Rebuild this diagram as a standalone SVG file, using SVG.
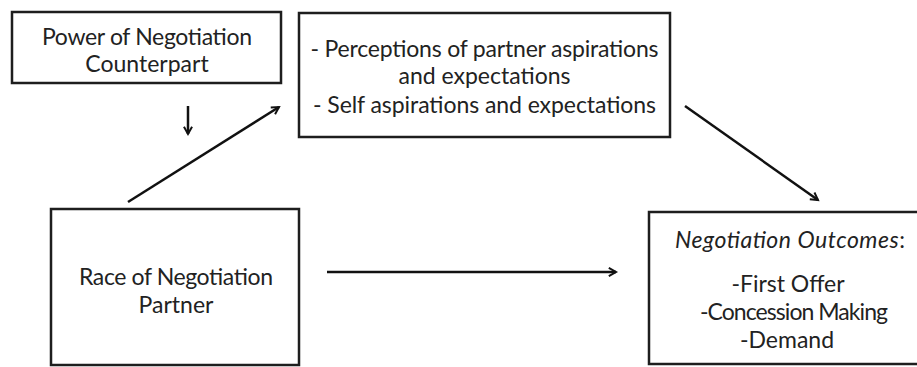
<svg xmlns="http://www.w3.org/2000/svg" width="917" height="367" viewBox="0 0 917 367">
<style>
.box{fill:#fff;stroke:#1e1e1e;stroke-width:2.5}
.t{font-family:Lato,"Open Sans","Liberation Sans",sans-serif;font-size:23px;fill:#222;text-anchor:middle}
.it{font-style:italic}
.c{stroke:#111;stroke-width:2.5;fill:none}
</style>
<defs>
<marker id="ah" viewBox="0 0 10 10" refX="9" refY="5" markerWidth="9" markerHeight="9" markerUnits="userSpaceOnUse" orient="auto" overflow="visible">
<path d="M1,0.5 L9,5 L1,9.5" fill="none" stroke="#111" stroke-width="2.2"/>
</marker>
</defs>
<rect width="917" height="367" fill="#fff"/>
<g id="power">
<rect class="box" x="12" y="12" width="269" height="71"/>
<text class="t" x="147" y="45" textLength="210">Power of Negotiation</text>
<text class="t" x="147" y="72">Counterpart</text>
</g>
<g id="perceptions">
<rect class="box" x="299" y="13" width="371" height="124"/>
<text class="t" x="484.5" y="57" textLength="348">- Perceptions of partner aspirations</text>
<text class="t" x="484.5" y="84">and expectations</text>
<text class="t" x="484.5" y="113" textLength="343">- Self aspirations and expectations</text>
</g>
<g id="race">
<rect class="box" x="51" y="209" width="248" height="156"/>
<text class="t" x="176" y="285" textLength="194">Race of Negotiation</text>
<text class="t" x="176" y="313">Partner</text>
</g>
<g id="outcomes">
<rect class="box" x="649" y="212" width="290" height="152"/>
<text class="t" x="790" y="248" textLength="230"><tspan class="it">Negotiation Outcomes</tspan>:</text>
<text class="t" x="788" y="292">-First Offer</text>
<text class="t" x="794" y="320" textLength="188">-Concession Making</text>
<text class="t" x="787" y="348">-Demand</text>
</g>
<g id="connectors">
<line class="c" x1="188" y1="106" x2="188" y2="134" marker-end="url(#ah)"/>
<line class="c" x1="128" y1="202" x2="279" y2="107" marker-end="url(#ah)"/>
<line class="c" x1="685" y1="106" x2="818" y2="200" marker-end="url(#ah)"/>
<line class="c" x1="327" y1="272" x2="616" y2="272" marker-end="url(#ah)"/>
</g>
</svg>
